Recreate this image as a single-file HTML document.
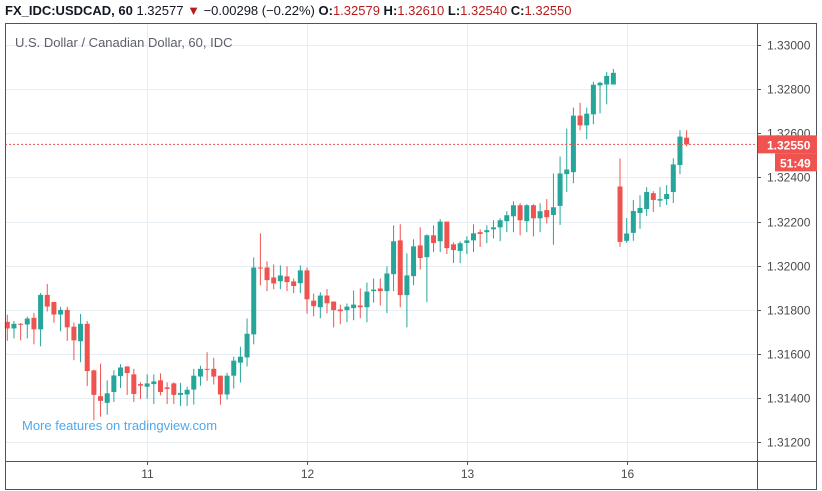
<!DOCTYPE html>
<html><head><meta charset="utf-8"><style>
body{margin:0;background:#fff;width:822px;height:491px;overflow:hidden;font-family:"Liberation Sans",sans-serif}
svg{display:block}
</style></head><body>
<svg id="chart" width="822" height="491" xmlns="http://www.w3.org/2000/svg">
<g id="grid"></g>
<g id="candles"></g>
<g id="axes"></g>
<text x="5" y="15" font-size="13" font-weight="bold" fill="#131722">FX_IDC:USDCAD, 60 <tspan font-weight="normal">1.32577 </tspan><tspan font-weight="normal" fill="#b71c1c">▼</tspan><tspan font-weight="normal"> −0.00298 (−0.22%) </tspan>O:<tspan font-weight="normal" fill="#b71c1c">1.32579</tspan> H:<tspan font-weight="normal" fill="#b71c1c">1.32610</tspan> L:<tspan font-weight="normal" fill="#b71c1c">1.32540</tspan> C:<tspan font-weight="normal" fill="#b71c1c">1.32550</tspan></text>
<text x="15" y="47" font-size="13" fill="#5d606b">U.S. Dollar / Canadian Dollar, 60, IDC</text>
<text x="22" y="430" font-size="13" fill="#4fa8ee">More features on tradingview.com</text>
</svg>
<script>
const opens=[1.31746,1.31716,1.31737,1.31734,1.31764,1.31712,1.31868,1.31836,1.31779,1.31800,1.31724,1.31658,1.31737,1.31526,1.31409,1.31379,1.31428,1.31500,1.31544,1.31508,1.31464,1.31452,1.31464,1.31481,1.31449,1.31467,1.31415,1.31417,1.31439,1.31498,1.31533,1.31533,1.31502,1.31417,1.31502,1.31561,1.31585,1.31689,1.31992,1.31992,1.31947,1.31930,1.31952,1.31929,1.31921,1.31979,1.31842,1.31812,1.31865,1.31838,1.31802,1.31799,1.31808,1.31820,1.31812,1.31885,1.31897,1.31885,1.31962,1.32115,1.31867,1.31953,1.32092,1.32039,1.32138,1.32111,1.32200,1.32097,1.32067,1.32103,1.32115,1.32152,1.32152,1.32165,1.32174,1.32202,1.32224,1.32274,1.32202,1.32274,1.32215,1.32252,1.32230,1.32271,1.32415,1.32424,1.32680,1.32636,1.32686,1.32817,1.32821,1.32821,1.32359,1.32113,1.32149,1.32239,1.32257,1.32329,1.32295,1.32302,1.32334,1.32456,1.32580];
const closes=[1.31716,1.31737,1.31733,1.31761,1.31712,1.31868,1.31815,1.31779,1.31800,1.31721,1.31662,1.31737,1.31523,1.31415,1.31388,1.31422,1.31503,1.31539,1.31514,1.31419,1.31457,1.31467,1.31476,1.31428,1.31442,1.31415,1.31424,1.31438,1.31502,1.31533,1.31529,1.31498,1.31417,1.31502,1.31570,1.31588,1.31692,1.31992,1.31988,1.31935,1.31920,1.31956,1.31926,1.31908,1.31979,1.31848,1.31817,1.31865,1.31830,1.31799,1.31794,1.31815,1.31824,1.31812,1.31883,1.31892,1.31885,1.31965,1.32111,1.31867,1.31956,1.32088,1.32035,1.32138,1.32103,1.32200,1.32080,1.32071,1.32102,1.32115,1.32147,1.32144,1.32161,1.32174,1.32206,1.32229,1.32274,1.32206,1.32274,1.32215,1.32247,1.32220,1.32265,1.32418,1.32436,1.32680,1.32636,1.32689,1.32820,1.32829,1.32860,1.32874,1.32108,1.32146,1.32248,1.32262,1.32334,1.32298,1.32302,1.32325,1.32459,1.32585,1.32550];
const highs=[1.31778,1.31750,1.31740,1.31770,1.31787,1.31877,1.31917,1.31836,1.31814,1.31814,1.31743,1.31782,1.31750,1.31530,1.31557,1.31481,1.31526,1.31554,1.31544,1.31533,1.31472,1.31508,1.31508,1.31512,1.31472,1.31472,1.31470,1.31452,1.31533,1.31547,1.31608,1.31583,1.31502,1.31515,1.31588,1.31633,1.31761,1.32038,1.32147,1.32020,1.32006,1.32002,1.31997,1.31942,1.32002,1.31992,1.31874,1.31880,1.31894,1.31838,1.31824,1.31829,1.31888,1.31897,1.31924,1.31942,1.31942,1.31997,1.32183,1.32188,1.32056,1.32120,1.32174,1.32142,1.32183,1.32211,1.32200,1.32106,1.32111,1.32133,1.32188,1.32165,1.32183,1.32206,1.32215,1.32247,1.32292,1.32283,1.32279,1.32279,1.32283,1.32302,1.32418,1.32495,1.32621,1.32716,1.32738,1.32716,1.32833,1.32833,1.32878,1.32892,1.32486,1.32216,1.32298,1.32320,1.32356,1.32338,1.32356,1.32365,1.32487,1.32614,1.32614];
const lows=[1.31660,1.31671,1.31662,1.31671,1.31644,1.31635,1.31793,1.31742,1.31703,1.31660,1.31572,1.31563,1.31455,1.31300,1.31316,1.31325,1.31383,1.31446,1.31415,1.31383,1.31397,1.31397,1.31374,1.31413,1.31374,1.31374,1.31365,1.31365,1.31371,1.31456,1.31479,1.31462,1.31371,1.31394,1.31444,1.31471,1.31544,1.31644,1.31911,1.31885,1.31894,1.31894,1.31885,1.31876,1.31876,1.31783,1.31771,1.31762,1.31785,1.31721,1.31735,1.31744,1.31753,1.31762,1.31744,1.31833,1.31820,1.31785,1.31885,1.31812,1.31721,1.31912,1.31983,1.31835,1.32062,1.32062,1.32053,1.32012,1.32012,1.32053,1.32062,1.32085,1.32102,1.32124,1.32111,1.32152,1.32152,1.32138,1.32152,1.32133,1.32152,1.32192,1.32095,1.32185,1.32334,1.32374,1.32614,1.32573,1.32641,1.32690,1.32731,1.32821,1.32086,1.32104,1.32113,1.32167,1.32225,1.32244,1.32266,1.32275,1.32284,1.32415,1.32541];
const yTicks=[1.33,1.328,1.326,1.324,1.322,1.32,1.318,1.316,1.314,1.312];
const dayLabels=["11","12","13","16"];
const dayIndex=[21,45,69,93];
const lastPrice=1.3255;
const countdown="51:49";

const NS="http://www.w3.org/2000/svg";
const L=5,R=757,T=23,B=461;
function yS(p){return 45+(1.33-p)/0.002*44.15;}
function xS(i){return 7.3+i*6.66;}
function mk(tag,attrs,parent){const e=document.createElementNS(NS,tag);for(const k in attrs)e.setAttribute(k,attrs[k]);parent.appendChild(e);return e;}
const grid=document.getElementById('grid'),cg=document.getElementById('candles'),ax=document.getElementById('axes');
yTicks.forEach(t=>{
  const y=Math.round(yS(t))+0.5;
  const gl=mk('line',{x1:L,x2:R,y1:y,y2:y,stroke:'#e6edf3','stroke-width':1},grid);
  
  
  mk('line',{x1:R,x2:R+4,y1:y,y2:y,stroke:'#555','stroke-width':1},ax);
  const tx=mk('text',{x:767,y:y+4,'font-size':12,fill:'#4a4a4a'},ax);
  tx.textContent=t.toFixed(5);
  
  
});
dayIndex.forEach((di,k)=>{
  const x=Math.round(xS(di))+0.5;
  const gl=mk('line',{x1:x,x2:x,y1:T,y2:B,stroke:'#e6edf3','stroke-width':1},grid);
  
  
  mk('line',{x1:x,x2:x,y1:B,y2:B+4,stroke:'#555','stroke-width':1},ax);
  const tx=mk('text',{x:x,y:B+17,'font-size':12,fill:'#4a4a4a','text-anchor':'middle'},ax);
  tx.textContent=dayLabels[k];
  
  
});
for(let i=0;i<opens.length;i++){
  const up=closes[i]>=opens[i];
  const col=up?'#26a69a':'#ef5350';
  const x=xS(i);
  const g=mk('g',{},cg);
  
  
  mk('line',{x1:x,x2:x,y1:yS(highs[i]),y2:yS(lows[i]),stroke:col,'stroke-width':1},g);
  const top=yS(Math.max(opens[i],closes[i])),bot=yS(Math.min(opens[i],closes[i]));
  mk('rect',{x:x-2.5,y:top,width:5,height:Math.max(1,bot-top),fill:col},g);
}
const ly=yS(lastPrice);
const pl=mk('line',{x1:L,x2:R,y1:ly,y2:ly,stroke:'#ef5350','stroke-width':1,'stroke-dasharray':'2,2'},ax);


mk('rect',{x:L+0.5,y:T+0.5,width:817-L-1,height:490-T-1,fill:'none',stroke:'#50535e','stroke-width':1},ax);
mk('line',{x1:R+0.5,x2:R+0.5,y1:T,y2:490,stroke:'#50535e','stroke-width':1},ax);
mk('line',{x1:L,x2:817,y1:B+0.5,y2:B+0.5,stroke:'#50535e','stroke-width':1},ax);
const pb=mk('rect',{x:R+1,y:ly-9,width:59,height:18,fill:'#ef5350'},ax);


const pt=mk('text',{x:767,y:ly+5,'font-size':12,'font-weight':'bold',fill:'#fff'},ax);
pt.textContent=lastPrice.toFixed(5);


const cb=mk('rect',{x:775,y:ly+9,width:42,height:18,fill:'#ef5350'},ax);


const ct=mk('text',{x:780,y:ly+23,'font-size':12,'font-weight':'bold',fill:'#fff'},ax);
ct.textContent=countdown;


</script>
</body></html>
